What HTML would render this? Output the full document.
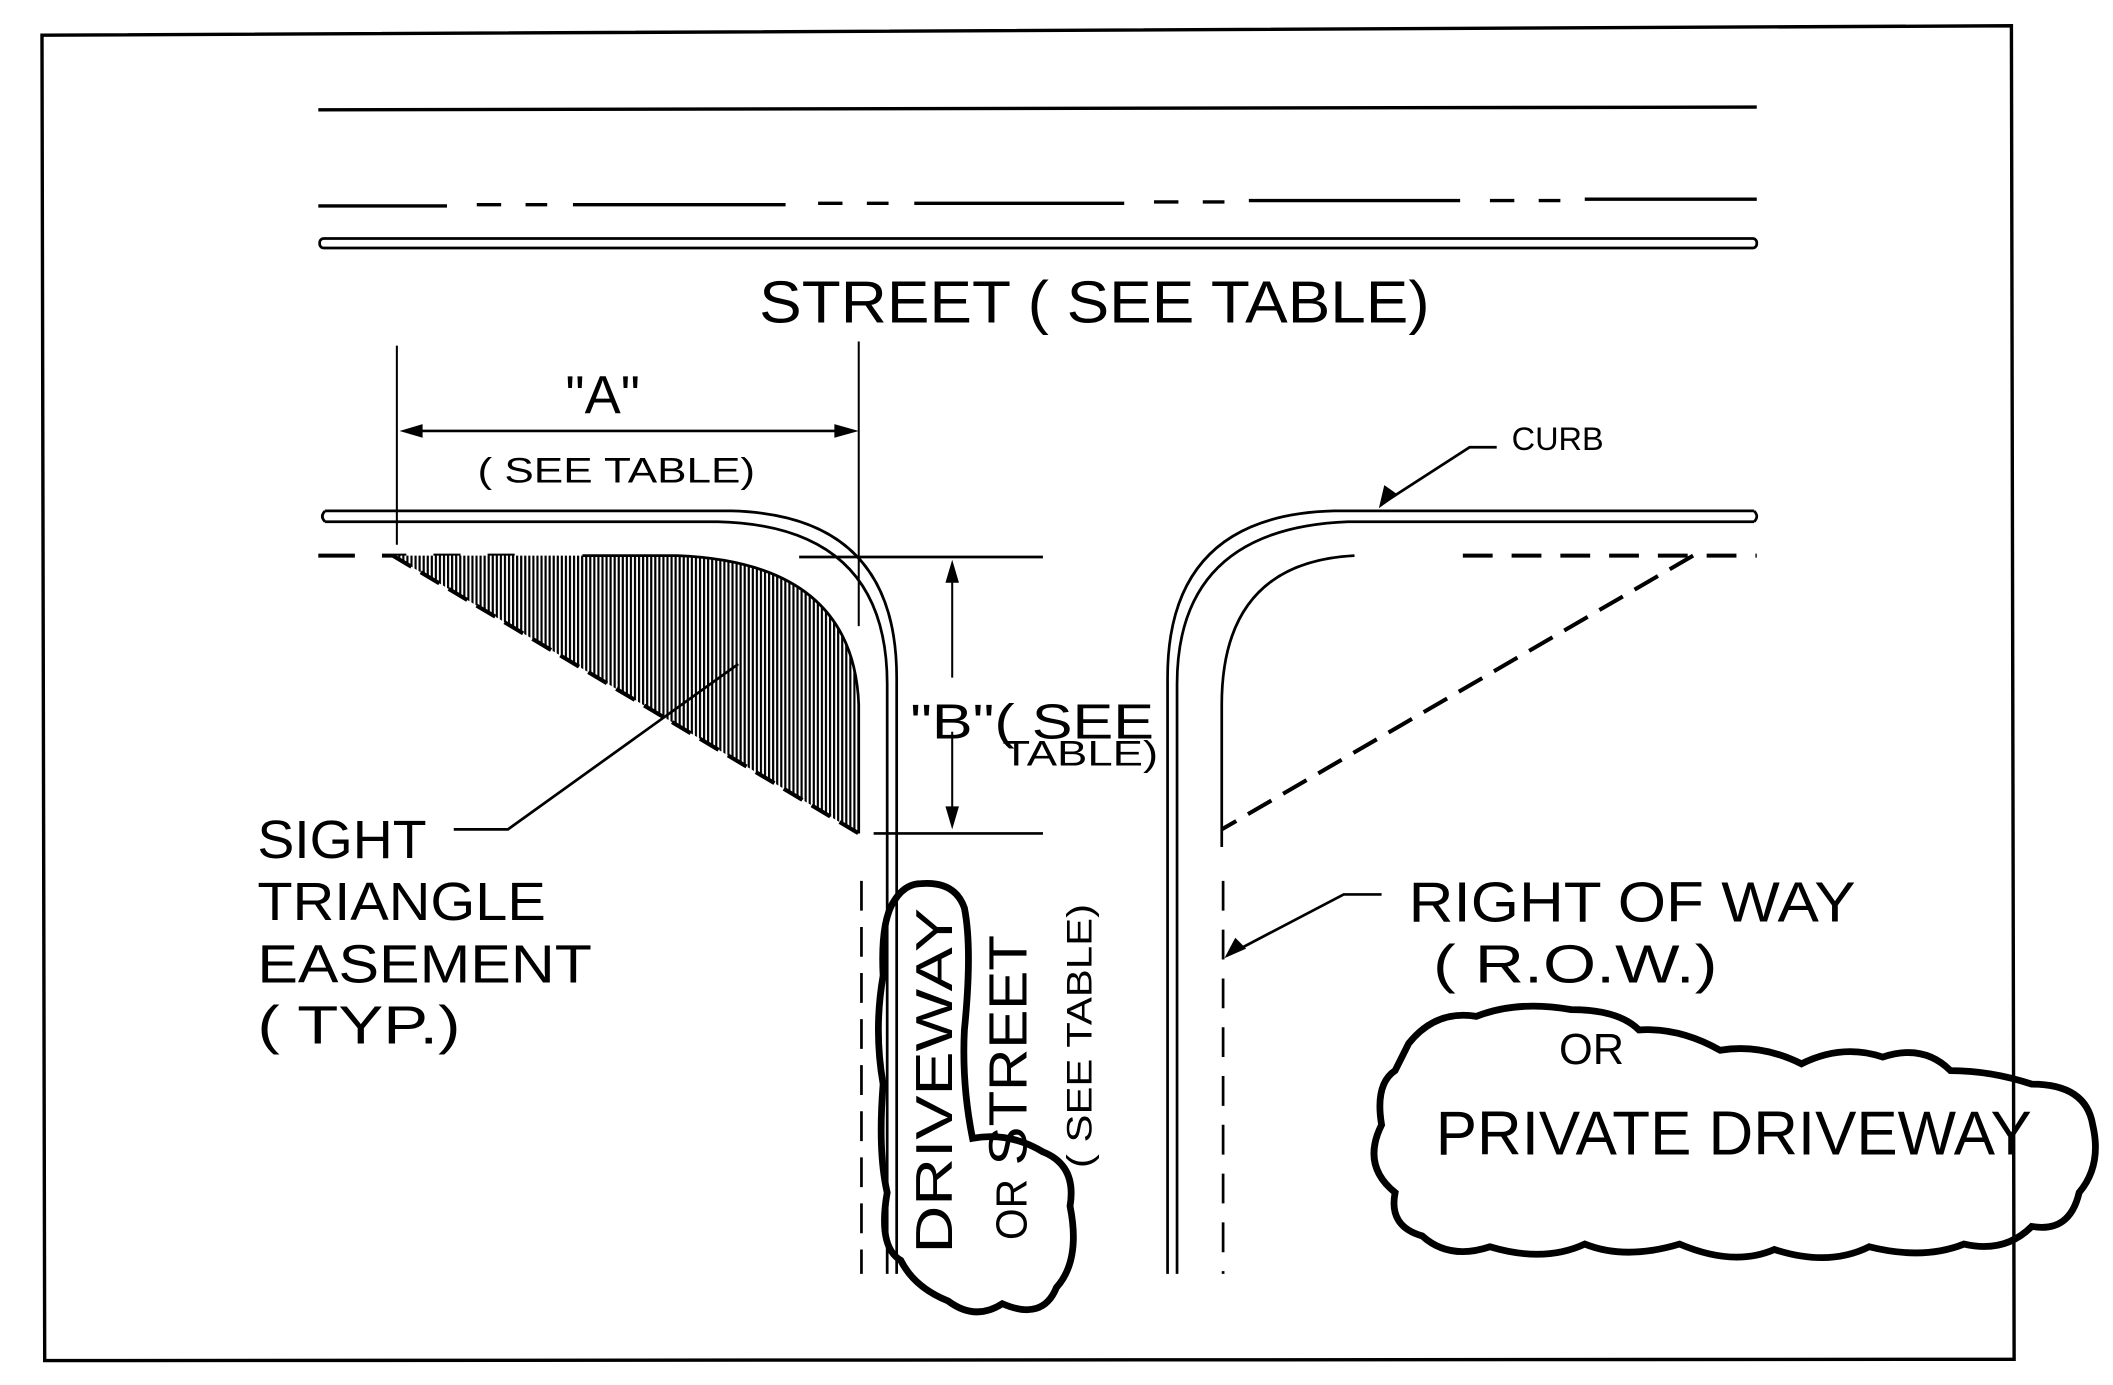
<!DOCTYPE html>
<html><head><meta charset="utf-8"><style>
html,body{margin:0;padding:0;background:#fff;width:2113px;height:1385px;overflow:hidden}
svg{display:block}
text{font-family:"Liberation Sans Narrow","Liberation Sans",sans-serif;fill:#000}
</style></head><body>
<svg width="2113" height="1385" viewBox="0 0 1560 1022" preserveAspectRatio="none" xmlns="http://www.w3.org/2000/svg">
<defs>
<pattern id="hatch" width="3" height="3" patternUnits="userSpaceOnUse">
<rect width="3" height="3" fill="#fff"/><rect width="1.6" height="3" fill="#000"/>
</pattern>
</defs>
<g fill="none" stroke="#000">
<!-- border -->
<path d="M31,26 L1485,19 L1487,1003 L33,1004 Z" stroke-width="2.5"/>
<!-- street lines -->
<line x1="235" y1="81" x2="1297" y2="79" stroke-width="2.5"/>
<path d="M235,152 H330 M352,151 H370 M388,151 H404 M423,151 H580 M604,150 H622 M640,150 H656 M675,150 H830 M852,149 H870 M888,149 H904 M922,148 H1078 M1100,148 H1118 M1136,148 H1152 M1170,147 H1297" stroke-width="2.5"/>
<rect x="236" y="176" width="1061" height="7" rx="3" stroke-width="2"/>
<!-- A dimension -->
<line x1="293" y1="255" x2="293" y2="402" stroke-width="1.5"/>
<line x1="634" y1="252" x2="634" y2="462" stroke-width="1.5"/>
<line x1="300" y1="318" x2="628" y2="318" stroke-width="2"/>
<!-- left curb -->
<path d="M240,377 H540 Q662,380 662,500 V940" stroke-width="2"/>
<path d="M240,385 H530 Q655,388 655,505 V940" stroke-width="2"/>
<path d="M240,377 Q236,381 240,385" stroke-width="2"/>
<!-- right curb -->
<path d="M1295,377 H985 Q862,380 862,500 V940" stroke-width="2"/>
<path d="M1295,385 H995 Q869,390 869,505 V940" stroke-width="2"/>
<path d="M1295,377 Q1299,381 1295,385" stroke-width="2"/>
<!-- B dimension -->
<line x1="590" y1="411" x2="770" y2="411" stroke-width="2"/>
<line x1="645" y1="615" x2="770" y2="615" stroke-width="2"/>
<line x1="703" y1="418" x2="703" y2="500" stroke-width="1.5"/>
<line x1="703" y1="540" x2="703" y2="608" stroke-width="1.5"/>
<!-- left ROW -->
<path d="M235,410 H262 M282,410 H300 M320,410 H340 M360,410 H380" stroke-width="3"/>
<path d="M290,410 L634,615 L634,520 Q630,415 500,410 Z" fill="url(#hatch)" stroke="none"/>
<path d="M430,410 H500 Q630,415 634,520 V615" stroke-width="2"/>
<path d="M290,410 L634,615" stroke-width="3" stroke-dasharray="16,8"/>
<path d="M636,650 V940" stroke-width="2" stroke-dasharray="22,12"/>
<!-- right ROW -->
<path d="M1000,410 Q902,415 902,520 V625" stroke-width="2"/>
<path d="M1080,410 H1297" stroke-width="3" stroke-dasharray="22,14"/>
<path d="M1250,410 L902,612" stroke-width="3" stroke-dasharray="20,10"/>
<path d="M903,650 V940" stroke-width="2" stroke-dasharray="22,14"/>
<!-- sight leader -->
<path d="M335,612 H375 L545,490" stroke-width="2"/>
<!-- curb leader -->
<path d="M1105,330 H1085 L1020,372" stroke-width="2"/>
<!-- ROW leader -->
<path d="M1020,660 H992 L906,705" stroke-width="2"/>
<!-- clouds -->
<path d="M1040,770 Q1060,745 1090,750 Q1120,738 1160,745 Q1195,745 1210,760 Q1240,758 1270,775 Q1300,770 1330,785 Q1360,770 1390,780 Q1420,770 1440,790 Q1470,790 1500,800 Q1540,800 1545,830 Q1552,860 1535,880 Q1528,910 1500,905 Q1480,925 1450,918 Q1420,930 1380,920 Q1350,935 1310,922 Q1280,935 1240,918 Q1200,930 1170,918 Q1140,932 1100,920 Q1070,930 1050,912 Q1025,905 1030,880 Q1005,860 1020,830 Q1015,800 1030,790 Z" stroke-width="5"/>
<path d="M680,652 Q705,650 712,670 Q718,700 712,760 Q710,800 718,840 Q745,835 770,850 Q795,860 790,890 Q798,930 780,950 Q770,975 740,962 Q720,975 700,960 Q675,950 665,930 Q648,920 655,880 Q648,850 652,800 Q645,760 652,720 Q650,680 660,665 Q668,652 680,652 Z" stroke-width="5"/>
</g>
<!-- arrowheads -->
<g fill="#000">
<polygon points="295,318 312,313 312,323"/>
<polygon points="634,318 616,313 616,323"/>
<polygon points="703,413 698,430 708,430"/>
<polygon points="703,612 698,595 708,595"/>
<polygon points="1018,375 1022,358 1032,365"/>
<polygon points="904,707 912,692 920,700"/>
</g>
<g>
<text x="808" y="238" font-size="44" text-anchor="middle" textLength="495" lengthAdjust="spacingAndGlyphs">STREET ( SEE TABLE)</text>
<text x="445" y="305" font-size="40" text-anchor="middle">"A"</text>
<text x="455" y="356" font-size="26" text-anchor="middle" textLength="205" lengthAdjust="spacingAndGlyphs">( SEE TABLE)</text>
<text x="1150" y="332" font-size="24" text-anchor="middle">CURB</text>
<text x="672" y="545" font-size="36" textLength="180" lengthAdjust="spacingAndGlyphs">"B"( SEE</text>
<text x="740" y="565" font-size="26" textLength="115" lengthAdjust="spacingAndGlyphs">TABLE)</text>
<text x="190" y="633" font-size="40" textLength="125" lengthAdjust="spacingAndGlyphs">SIGHT</text>
<text x="190" y="679" font-size="40" textLength="213" lengthAdjust="spacingAndGlyphs">TRIANGLE</text>
<text x="190" y="725" font-size="40" textLength="247" lengthAdjust="spacingAndGlyphs">EASEMENT</text>
<text x="190" y="770" font-size="40" textLength="150" lengthAdjust="spacingAndGlyphs">( TYP.)</text>
<text x="1040" y="680" font-size="42" textLength="330" lengthAdjust="spacingAndGlyphs">RIGHT OF WAY</text>
<text x="1058" y="725" font-size="40" textLength="210" lengthAdjust="spacingAndGlyphs">( R.O.W.)</text>
<text x="1175" y="785" font-size="32" text-anchor="middle">OR</text>
<text x="1060" y="852" font-size="46" textLength="440" lengthAdjust="spacingAndGlyphs">PRIVATE DRIVEWAY</text>
<text transform="translate(703,925) rotate(-90)" font-size="38" textLength="255" lengthAdjust="spacingAndGlyphs">DRIVEWAY</text>
<text transform="translate(758,915) rotate(-90)" font-size="32" textLength="45" lengthAdjust="spacingAndGlyphs">OR</text>
<text transform="translate(758,860) rotate(-90)" font-size="40" textLength="170" lengthAdjust="spacingAndGlyphs">STREET</text>
<text transform="translate(806,862) rotate(-90)" font-size="26" textLength="195" lengthAdjust="spacingAndGlyphs">( SEE TABLE)</text>
</g>
</svg>
</body></html>
